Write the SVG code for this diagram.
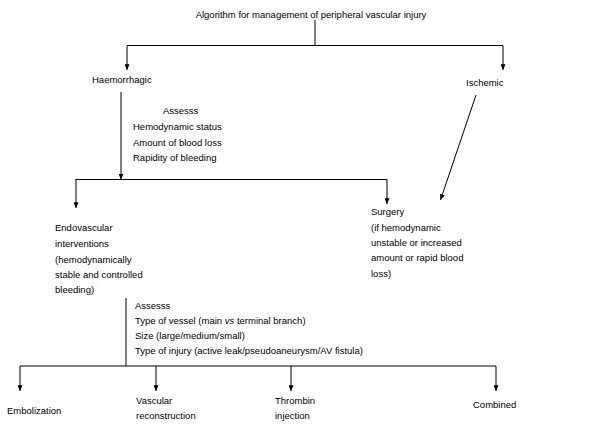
<svg xmlns="http://www.w3.org/2000/svg" width="590" height="428" viewBox="0 0 590 428">
<defs>
<marker id="ah" viewBox="0 0 8 7" refX="8" refY="3.5" markerWidth="6" markerHeight="5" markerUnits="userSpaceOnUse" orient="auto">
<path d="M0,0 L8,3.5 L0,7 Z" fill="#000"/>
</marker>
<style>
text{font-family:"Liberation Sans",Arial,sans-serif;font-size:9.5px;fill:#000}
.ln{stroke:#000;stroke-width:1;fill:none}
.ar{stroke:#000;stroke-width:1;fill:none;marker-end:url(#ah)}
</style>
</defs>
<rect width="590" height="428" fill="#fff"/>
<g id="connectors">
<path class="ln" d="M315,20 V45.5"/>
<path class="ln" d="M127,45.5 H503"/>
<path class="ar" d="M127,45.5 V70"/>
<path class="ar" d="M503,45.5 V70"/>
<path class="ar" d="M121,92 V179.5"/>
<path class="ln" d="M75.5,179.5 H387"/>
<path class="ar" d="M76,179.5 V208"/>
<path class="ar" d="M387,179.5 V204"/>
<path class="ar" d="M476,95 L440.5,200"/>
<path class="ln" d="M126,298 V366"/>
<path class="ln" d="M20,366 H496"/>
<path class="ar" d="M20,366 V391"/>
<path class="ar" d="M156,366 V391"/>
<path class="ar" d="M291,366 V391"/>
<path class="ar" d="M496,366 V391"/>
</g>
<g id="title"><text x="311" y="18" text-anchor="middle">Algorithm for management of peripheral vascular injury</text></g>
<g id="haemorrhagic"><text x="92" y="83">Haemorrhagic</text></g>
<g id="ischemic"><text x="466" y="86">Ischemic</text></g>
<g id="assess1">
<text x="163" y="114">Assesss</text>
<text x="133" y="130">Hemodynamic status</text>
<text x="133" y="146">Amount of blood loss</text>
<text x="133" y="161">Rapidity of bleeding</text>
</g>
<g id="endovascular">
<text x="55" y="231">Endovascular</text>
<text x="55" y="247">interventions</text>
<text x="55" y="263">(hemodynamically</text>
<text x="55" y="278">stable and controlled</text>
<text x="55" y="293">bleeding)</text>
</g>
<g id="surgery">
<text x="371" y="215">Surgery</text>
<text x="371" y="231">(if hemodynamic</text>
<text x="371" y="246">unstable or increased</text>
<text x="371" y="261">amount or rapid blood</text>
<text x="371" y="277">loss)</text>
</g>
<g id="assess2">
<text x="135" y="309">Assesss</text>
<text x="135" y="324">Type of vessel (main <tspan font-style="italic">vs</tspan> terminal branch)</text>
<text x="135" y="339">Size (large/medium/small)</text>
<text x="135" y="354">Type of injury (active leak/pseudoaneurysm/AV fistula)</text>
</g>
<g id="embolization"><text x="7" y="414">Embolization</text></g>
<g id="vascular"><text x="136" y="404">Vascular</text><text x="136" y="419">reconstruction</text></g>
<g id="thrombin"><text x="275" y="404">Thrombin</text><text x="275" y="419">injection</text></g>
<g id="combined"><text x="473" y="408">Combined</text></g>
</svg>
